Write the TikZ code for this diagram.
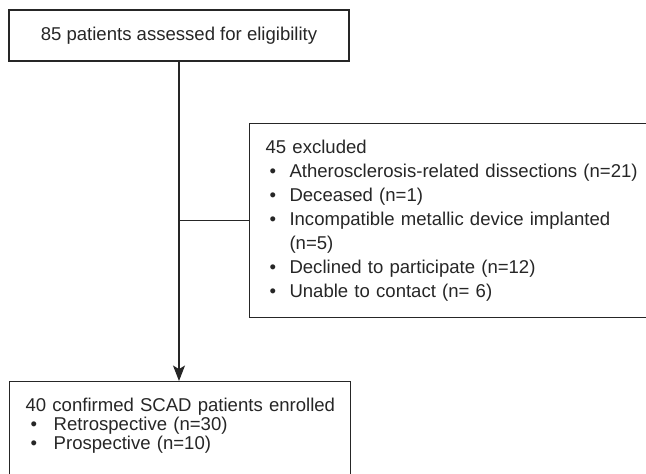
\documentclass[tikz,border=0pt]{standalone}
\usepackage{fontspec}
\setmainfont{Liberation Sans}
\usetikzlibrary{arrows,arrows.meta}

\newcommand{\exclitem}{\makebox[17pt][l]{\hspace{2.8pt}\textbullet}}
\newcommand{\enrolitem}{\makebox[20pt][l]{\hspace{3.6pt}\textbullet}}

\begin{document}
\begin{tikzpicture}[flow_box/.style={rectangle,draw=black!85,line width=0.85pt,text=black!85,font=\fontsize{13.2}{17.1}\selectfont,inner sep=11.4pt},
	flow_line/.style={draw=black!85,line width=0.85pt}]
	\useasboundingbox (0,0) rectangle (16.15,-11.825);
	\node[flow_box,minimum width=8.5cm,minimum height=1.275cm] (assessed) at (4.475,-0.8875) {85 patients assessed for eligibility};
	\node[flow_box,anchor=north west,text width=9.6cm,align=left,minimum height=4.85cm] (excluded) at (6.225,-3.075) {45 excluded\\
		\exclitem Atherosclerosis-related dissections (n=21)\\
		\exclitem Deceased (n=1)\\
		\exclitem Incompatible metallic device implanted\\
		\hspace*{17pt}(n=5)\\
		\exclitem Declined to participate (n=12)\\
		\exclitem Unable to contact (n= 6)};
	\node[flow_box,anchor=north west,text width=7.725cm,align=left,text depth=3cm,font=\fontsize{13.2}{13.8}\selectfont] (enrolled) at (0.225,-9.525) {\mbox{40 confirmed SCAD patients enrolled}\\
		\enrolitem Retrospective (n=30)\\
		\enrolitem Prospective (n=10)};
	
	\draw[flow_line,-{Stealth[length=11pt,width=8.5pt,inset=2.5pt]}] (assessed.south) -- (assessed.south |- enrolled.north);
	\draw[flow_line] (excluded.west) -- (excluded.west -| assessed.south);
\end{tikzpicture}
\end{document}
